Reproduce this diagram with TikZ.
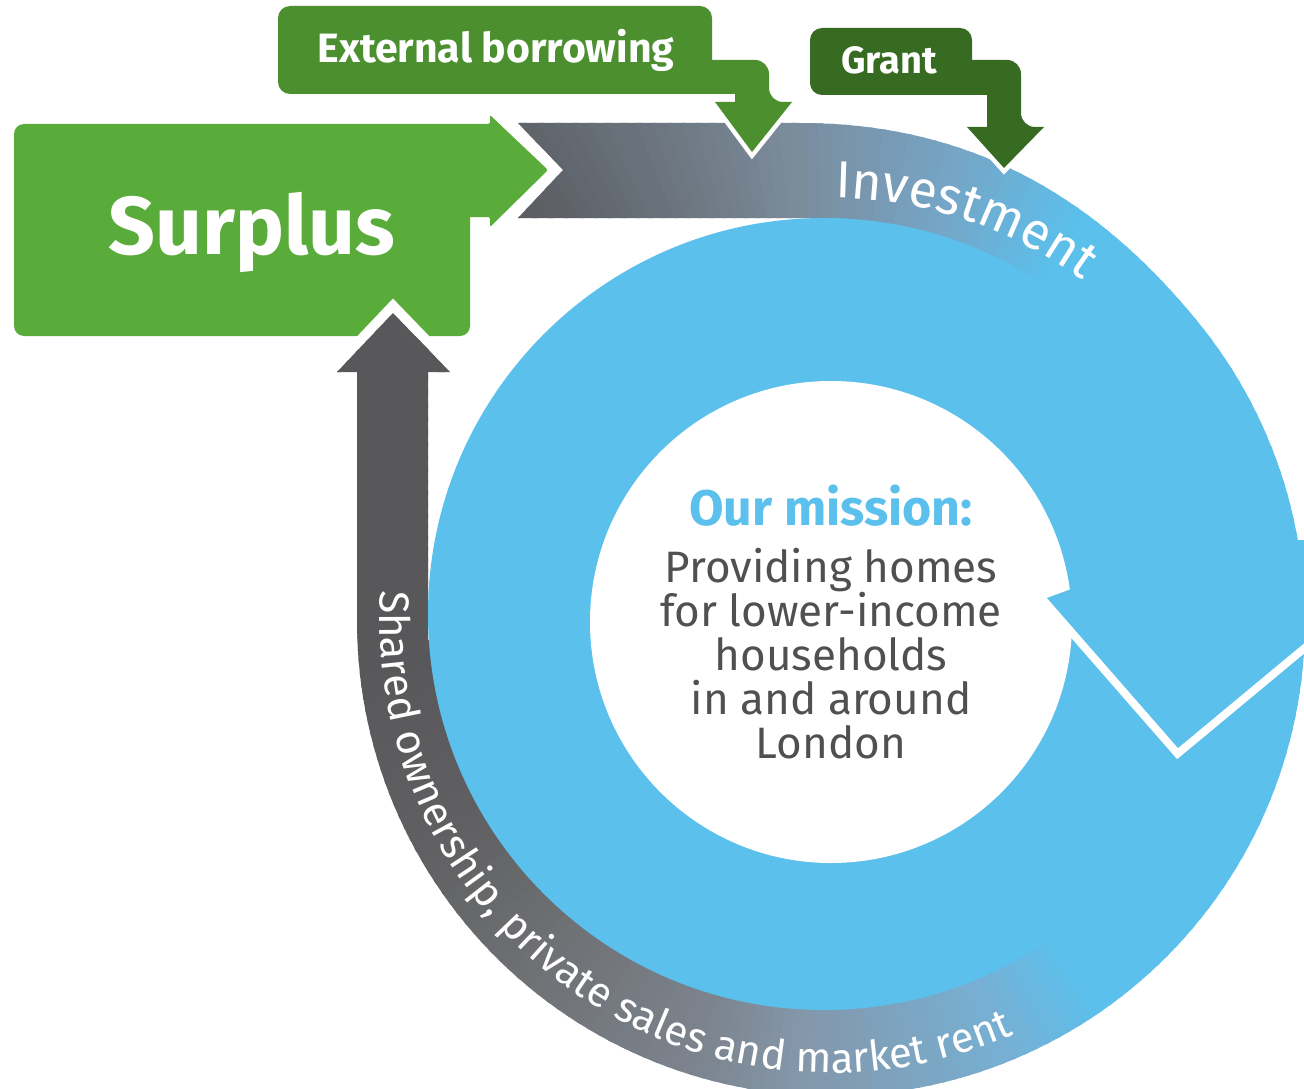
\documentclass[tikz,border=0pt]{standalone}
\usepackage{fontspec}
\setmainfont{Fira Sans}
\newcommand\fheavy{\bfseries}
\newcommand\flight{\mdseries}
\usetikzlibrary{decorations.text}

\definecolor{sgreen}{RGB}{89,171,58}
\definecolor{egreen}{RGB}{75,143,47}
\definecolor{ggreen}{RGB}{55,107,33}
\definecolor{ringblue}{RGB}{91,192,236}
\definecolor{bodygrey}{RGB}{80,80,82}
\definecolor{t0}{RGB}{92,95,100}
\definecolor{t1}{RGB}{122,138,153}
\definecolor{t2}{RGB}{118,165,198}
\definecolor{bl}{RGB}{91,192,236}
\definecolor{b3}{RGB}{118,176,212}
\definecolor{b4}{RGB}{132,151,170}
\definecolor{b5}{RGB}{124,132,142}
\definecolor{b6}{RGB}{110,112,115}
\definecolor{b7}{RGB}{96,96,98}
\definecolor{b8}{RGB}{88,88,90}

\tikzset{
  bandp/.style={insert path={(518,123) -- (800,123) .. controls (980,123) and (1103.5,206) .. (1198.3,322.4)
     -- plot[domain=-39.2:180, samples=100] ({831+474*cos(\x)},{622+474*sin(\x)})
     -- (357,372) -- (337,372) -- (393,313) -- (450,372) -- (428,372) -- (428,640)
     -- plot[domain=0:1, samples=100] ({831+350*cos(180-270*\x)},{622+350*sin(180-270*\x)})
     -- (831,218) -- (518,218) -- (563,170) -- cycle}},
  boxtext/.style={anchor=base, inner sep=0pt, text=white},
  bodytext/.style={anchor=base, inner sep=0pt, text=bodygrey, font=\fontsize{44}{48}\selectfont},
  halo/.style={draw=white, line join=miter}
}

\begin{document}
\begin{tikzpicture}[x=1pt,y=-1pt]
\useasboundingbox (0,0) rectangle (1304,1089);
\fill[white] (0,0) rectangle (1304,1089);
\clip (0,0) rectangle (1304,1089);

% Surplus box with right arrow
\fill[sgreen, rounded corners=10] (14,124) rectangle (470,336);
\fill[sgreen, rounded corners=2] (460,124) -- (490,124) -- (490,115) -- (548,170) -- (490,227) -- (490,217) -- (460,217) -- cycle;

% white notch around the up arrow
\draw[halo, line width=20] (337,372) -- (393,313) -- (450,372);

% outer band with gradient
\begin{scope}
\clip[bandp];
\foreach \aa/\ab/\ca/\cb in {-140/-125/t0/t0, -125/-96/t0/t1, -96/-75/t1/t2, -75/-58/t2/bl, -58/55/bl/bl, 55/67/bl/b3, 67/94/b3/b4, 94/107/b4/b5, 107/131/b5/b6, 131/151/b6/b7, 151/175/b7/b8, 175/226/b8/b8} {
  \pgfmathtruncatemacro{\nn}{max(1,round(((\ab)-(\aa))/1.5))}
  \foreach \i in {1,...,\nn} {
    \pgfmathsetmacro{\wa}{(\aa)+((\ab)-(\aa))*((\i)-1)/(\nn)}
    \pgfmathsetmacro{\wb}{(\aa)+((\ab)-(\aa))*(\i)/(\nn)+0.5}
    \pgfmathtruncatemacro{\pp}{100*((\i)-0.5)/(\nn)}
    \fill[fill=\cb!\pp!\ca] (831,622) -- +(\wa:900) -- +(\wb:900) -- cycle;
  }
}
\end{scope}

% blue ring
\fill[ringblue] (824,614) circle[radius=396pt];
\fill[white] (831,622) circle[radius=241pt];

% blue arrowhead
\draw[halo, line width=16] (1047,598) -- (1178,748) -- (1320,630);
\fill[ringblue] (1047,598) -- (1178,748) -- (1320,630) -- (1330,540) -- (1085,540) -- (1074,588) -- cycle;

% External borrowing
\draw[halo, line width=9] (715,102) -- (752,152) -- (792,102);
\fill[egreen, rounded corners=12] (278,6) rectangle (712,94);
\fill[egreen] (690,60) [rounded corners=14] -- (769,60) -- (769,102) [sharp corners] -- (792,102) -- (752,152) -- (715,102) -- (735,102) -- (735,94) -- (690,94) -- cycle;

% Grant
\draw[halo, line width=9] (967,127) -- (1004,168) -- (1044,127);
\fill[ggreen, rounded corners=12] (810,28) rectangle (972,95);
\fill[ggreen] (950,60) [rounded corners=14] -- (1021,60) -- (1021,127) [sharp corners] -- (1044,127) -- (1004,168) -- (967,127) -- (987,127) -- (987,95) -- (950,95) -- cycle;

% texts
\node[boxtext, font=\fheavy\fontsize{82}{90}\selectfont] (surplus) at (252,254) {Surplus};
\node[boxtext, font=\fheavy\fontsize{41}{46}\selectfont] (extb) at (496,63) {External borrowing};
\node[boxtext, font=\fheavy\fontsize{38}{44}\selectfont] (grant) at (889,74) {Grant};

\node[anchor=base, inner sep=0pt, text=ringblue, font=\fheavy\fontsize{50}{56}\selectfont] (mission) at (831,525) {Our mission:};
\node[bodytext] (l1) at (831,582) {Providing homes};
\node[bodytext] (l2) at (831,626) {for lower-income};
\node[bodytext] (l3) at (831,670) {households};
\node[bodytext] (l4) at (831,714) {in and around};
\node[bodytext] (l5) at (831,758) {London};

\path[decorate, decoration={text along path, text align=center,
  text={|\flight\fontsize{52}{60}\selectfont\color{white}|Investment}}]
  plot[domain=0:1, samples=80] ({831+424*cos(-110+77*\x)},{622+424*sin(-110+77*\x)});

\path[decorate, decoration={text along path, text align=center,
  text={|\flight\fontsize{42}{50}\selectfont\color{white}|Shared ownership, private sales and market rent}}]
  plot[domain=0:1, samples=160] ({831+451*cos(200-150*\x)},{622+451*sin(200-150*\x)});
\end{tikzpicture}
\end{document}
